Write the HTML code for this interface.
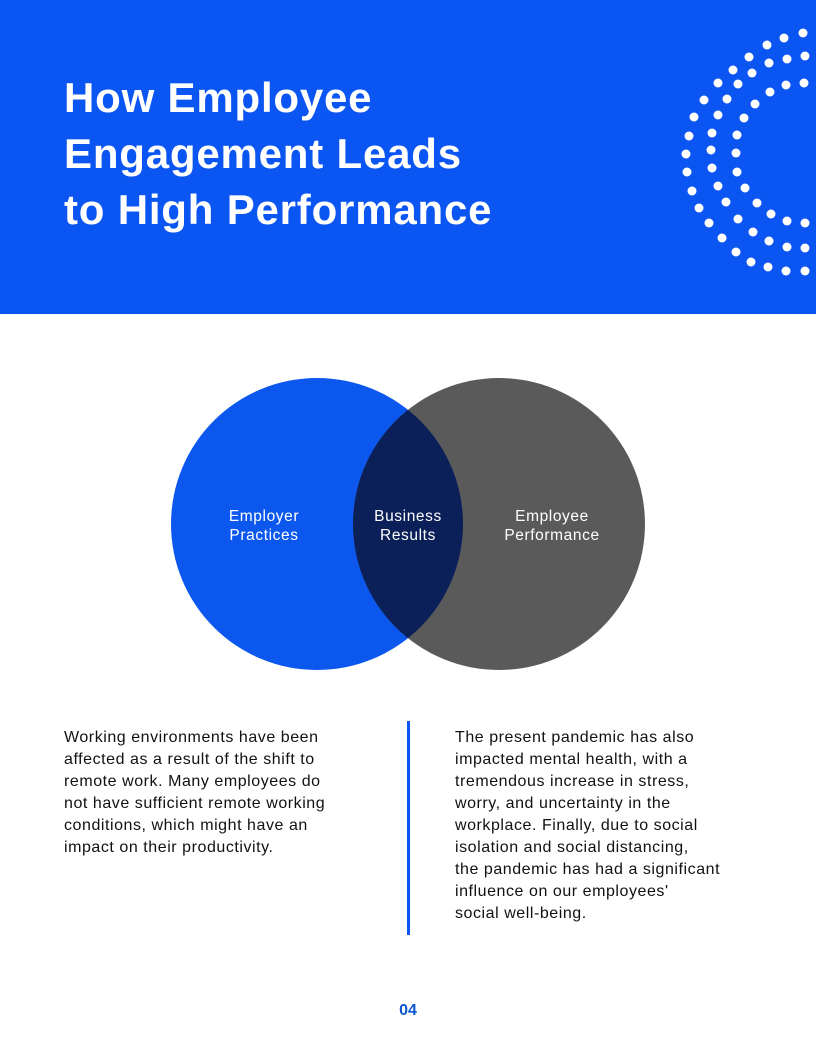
<!DOCTYPE html>
<html><head><style>
body{margin:0;width:816px;height:1056px;background:#fff;position:relative;overflow:hidden;font-family:"Liberation Sans",sans-serif}
.hdr{position:absolute;left:0;top:0;width:816px;height:314px;background:#0b55f2}
h1{position:absolute;left:64px;top:70px;margin:0;color:#fff;font-size:42px;line-height:56px;font-weight:bold;letter-spacing:0.8px}
.p{position:absolute;top:727px;font-size:16px;line-height:22px;color:#111;letter-spacing:0.55px;white-space:nowrap}
</style></head><body>
<div class="hdr"></div>
<h1>How Employee<br>Engagement Leads<br>to High Performance</h1>
<svg width="816" height="1056" style="position:absolute;left:0;top:0">
<g fill="#fff">
<circle cx="803" cy="33" r="4.5"/><circle cx="784" cy="38" r="4.5"/><circle cx="767" cy="45" r="4.5"/><circle cx="749" cy="57" r="4.5"/><circle cx="733" cy="70" r="4.5"/><circle cx="718" cy="83" r="4.5"/><circle cx="704" cy="100" r="4.5"/><circle cx="694" cy="117" r="4.5"/><circle cx="689" cy="136" r="4.5"/><circle cx="686" cy="154" r="4.5"/><circle cx="687" cy="172" r="4.5"/><circle cx="692" cy="191" r="4.5"/><circle cx="699" cy="208" r="4.5"/><circle cx="709" cy="223" r="4.5"/><circle cx="722" cy="238" r="4.5"/><circle cx="736" cy="252" r="4.5"/><circle cx="751" cy="262" r="4.5"/><circle cx="768" cy="267" r="4.5"/><circle cx="786" cy="271" r="4.5"/><circle cx="805" cy="271" r="4.5"/>
<circle cx="805" cy="56" r="4.5"/><circle cx="787" cy="59" r="4.5"/><circle cx="769" cy="63" r="4.5"/><circle cx="752" cy="73" r="4.5"/><circle cx="738" cy="84" r="4.5"/><circle cx="727" cy="99" r="4.5"/><circle cx="718" cy="115" r="4.5"/><circle cx="712" cy="133" r="4.5"/><circle cx="711" cy="150" r="4.5"/><circle cx="712" cy="168" r="4.5"/><circle cx="718" cy="186" r="4.5"/><circle cx="726" cy="202" r="4.5"/><circle cx="738" cy="219" r="4.5"/><circle cx="753" cy="232" r="4.5"/><circle cx="769" cy="241" r="4.5"/><circle cx="787" cy="247" r="4.5"/><circle cx="805" cy="248" r="4.5"/>
<circle cx="804" cy="83" r="4.5"/><circle cx="786" cy="85" r="4.5"/><circle cx="770" cy="92" r="4.5"/><circle cx="755" cy="104" r="4.5"/><circle cx="744" cy="118" r="4.5"/><circle cx="737" cy="135" r="4.5"/><circle cx="736" cy="153" r="4.5"/><circle cx="737" cy="172" r="4.5"/><circle cx="745" cy="188" r="4.5"/><circle cx="757" cy="203" r="4.5"/><circle cx="771" cy="214" r="4.5"/><circle cx="787" cy="221" r="4.5"/><circle cx="805" cy="223" r="4.5"/>
</g>
<defs><clipPath id="c"><circle cx="317" cy="524" r="146"/></clipPath></defs>
<circle cx="317" cy="524" r="146" fill="#0c58ef"/>
<circle cx="499" cy="524" r="146" fill="#5a5a5a"/>
<circle cx="499" cy="524" r="146" fill="#0b1f58" clip-path="url(#c)"/>
<g fill="#fff" font-family="Liberation Sans, sans-serif" font-size="15.5" letter-spacing="0.6" text-anchor="middle">
<text x="264" y="521">Employer</text><text x="264" y="540">Practices</text>
<text x="408" y="521">Business</text><text x="408" y="540">Results</text>
<text x="552" y="521">Employee</text><text x="552" y="540">Performance</text>
</g>
<rect x="407" y="721" width="3" height="214" fill="#0b55f2"/>
<text x="408" y="1015" fill="#0b55d0" font-size="16" font-weight="bold" text-anchor="middle" font-family="Liberation Sans, sans-serif">04</text>
</svg>
<div class="p" style="left:64px">Working environments have been<br>affected as a result of the shift to<br>remote work. Many employees do<br>not have sufficient remote working<br>conditions, which might have an<br>impact on their productivity.</div>
<div class="p" style="left:455px">The present pandemic has also<br>impacted mental health, with a<br>tremendous increase in stress,<br>worry, and uncertainty in the<br>workplace. Finally, due to social<br>isolation and social distancing,<br>the pandemic has had a significant<br>influence on our employees'<br>social well-being.</div>
</body></html>
